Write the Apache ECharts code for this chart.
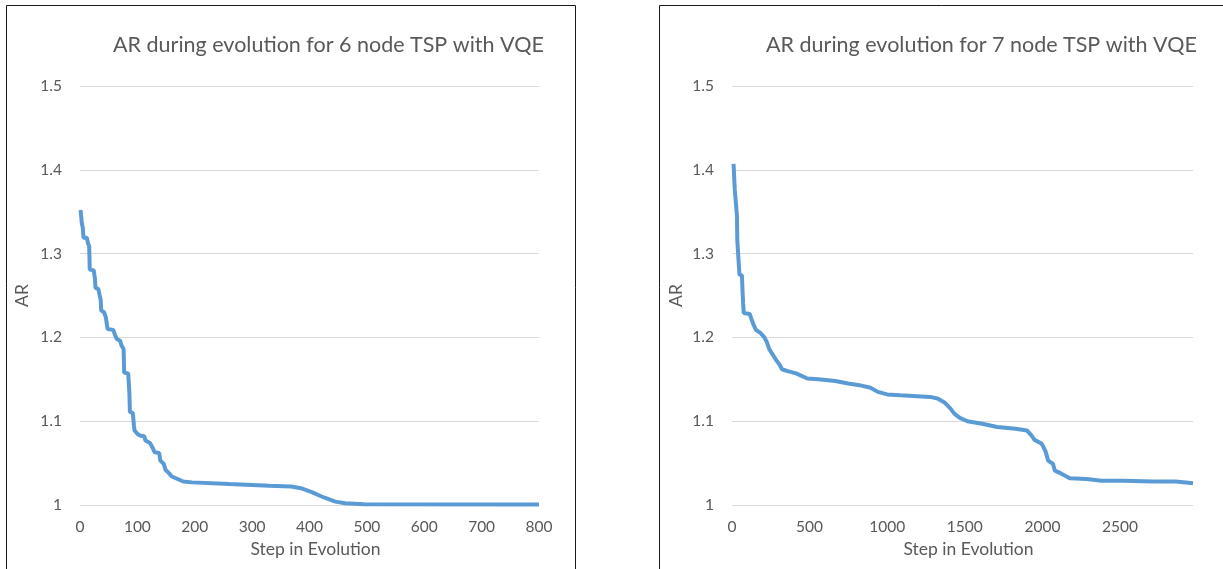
<!DOCTYPE html>
<html>
<head>
<meta charset="utf-8">
<script src="https://cdn.jsdelivr.net/npm/echarts@6/dist/echarts.min.js"></script>
<style>
  html, body { margin: 0; padding: 0; background: #fff; }
  #chart { width: 1223px; height: 569px; }
</style>
</head>
<body>
<div id="chart"></div>
<script>
// 6 node TSP (left panel)
const steps6 = [1, 2, 3, 5, 6, 12, 14, 16, 17, 24, 26, 27, 32, 34, 36, 37, 42, 45, 47, 48, 58, 61, 64, 70, 72, 76, 77, 84, 86, 87, 92, 94, 95, 100, 104, 112, 114, 122, 126, 130, 138, 140, 146, 149, 155, 160, 170, 180, 195, 260, 330, 368, 385, 405, 425, 445, 462, 495, 800];
const ar6 = [1.352, 1.345, 1.337, 1.330, 1.319, 1.319, 1.312, 1.309, 1.281, 1.280, 1.270, 1.259, 1.258, 1.251, 1.245, 1.232, 1.230, 1.224, 1.222, 1.210, 1.209, 1.203, 1.198, 1.196, 1.191, 1.186, 1.158, 1.157, 1.135, 1.111, 1.110, 1.095, 1.089, 1.085, 1.083, 1.082, 1.077, 1.074, 1.069, 1.063, 1.062, 1.053, 1.049, 1.042, 1.038, 1.034, 1.031, 1.028, 1.027, 1.025, 1.023, 1.022, 1.020, 1.015, 1.009, 1.004, 1.002, 1.001, 1.0005];

// 7 node TSP (right panel)
const steps7 = [10, 17, 18, 29, 32, 34, 46, 48, 64, 68, 72, 76, 114, 125, 137, 154, 185, 209, 225, 240, 264, 288, 305, 322, 353, 413, 485, 557, 665, 749, 821, 892, 940, 1000, 1084, 1276, 1324, 1372, 1408, 1432, 1468, 1516, 1612, 1708, 1828, 1900, 1929, 1948, 1996, 2020, 2037, 2068, 2080, 2116, 2176, 2284, 2380, 2524, 2716, 2860, 2970];
const ar7 = [1.407, 1.406, 1.376, 1.374, 1.345, 1.316, 1.315, 1.275, 1.274, 1.255, 1.240, 1.229, 1.228, 1.222, 1.216, 1.209, 1.205, 1.200, 1.194, 1.186, 1.179, 1.172, 1.168, 1.162, 1.160, 1.157, 1.151, 1.150, 1.148, 1.145, 1.143, 1.140, 1.135, 1.132, 1.131, 1.129, 1.127, 1.122, 1.115, 1.109, 1.104, 1.100, 1.097, 1.093, 1.091, 1.089, 1.083, 1.078, 1.073, 1.064, 1.053, 1.049, 1.041, 1.038, 1.032, 1.031, 1.029, 1.029, 1.028, 1.028, 1.026];

const titles = ['AR during evolution for 6 node TSP with VQE', 'AR during evolution for 7 node TSP with VQE'];
const xAxisName = 'Step in Evolution';
const yAxisName = 'AR';

const textColor = '#595959';
const font = 'Lato, "Open Sans", sans-serif';

function pairs(xs, ys) {
    return xs.map((x, i) => [x, ys[i]]);
}

function xAxisFor(gridIndex, max, interval) {
    return {
        type: 'value',
        gridIndex: gridIndex,
        min: 0,
        max: max,
        interval: interval,
        name: xAxisName,
        nameLocation: 'middle',
        nameGap: 33,
        nameTextStyle: { color: textColor, fontSize: 17.5, fontFamily: font, padding: [0, 0, 0, 12] },
        axisLine: { show: false },
        axisTick: { show: false },
        splitLine: { show: false },
        axisLabel: {
            color: textColor, fontSize: 15.5, fontFamily: font, margin: 14,
            showMaxLabel: max % interval === 0,
            formatter: v => String(v)
        }
    };
}

function yAxisFor(gridIndex, nameGap) {
    return {
        type: 'value',
        gridIndex: gridIndex,
        min: 1,
        max: 1.5,
        interval: 0.1,
        name: yAxisName,
        nameLocation: 'middle',
        nameGap: nameGap,
        nameTextStyle: { color: textColor, fontSize: 17.5, fontFamily: font },
        axisLine: { show: false },
        axisTick: { show: false },
        splitLine: { lineStyle: { color: '#d9d9d9', width: 1 } },
        axisLabel: { color: textColor, fontSize: 15.5, fontFamily: font, margin: 18 }
    };
}

function lineSeries(index, data) {
    return {
        type: 'line',
        xAxisIndex: index,
        yAxisIndex: index,
        data: data,
        showSymbol: false,
        symbol: 'none',
        lineStyle: { color: '#5b9bd5', width: 4 },
        animation: false
    };
}

const chart = echarts.init(document.getElementById('chart'));

chart.setOption({
    backgroundColor: '#fff',
    animation: false,
    title: [
        { text: titles[0], left: 108, top: 29, textStyle: { color: textColor, fontSize: 21.5, fontWeight: 'normal', fontFamily: font } },
        { text: titles[1], left: 761, top: 29, textStyle: { color: textColor, fontSize: 21.5, fontWeight: 'normal', fontFamily: font } }
    ],
    graphic: [
        { type: 'rect', shape: { x: 6.5, y: 5.5, width: 569, height: 620 }, style: { fill: 'none', stroke: '#1a1a1a', lineWidth: 1 } },
        { type: 'rect', shape: { x: 659.5, y: 5.5, width: 600, height: 620 }, style: { fill: 'none', stroke: '#1a1a1a', lineWidth: 1 } }
    ],
    grid: [
        { left: 80, top: 86, width: 459, height: 419 },
        { left: 732, top: 86, width: 461, height: 419 }
    ],
    xAxis: [xAxisFor(0, 800, 100), xAxisFor(1, 2970, 500)],
    yAxis: [yAxisFor(0, 49), yAxisFor(1, 47)],
    series: [lineSeries(0, pairs(steps6, ar6)), lineSeries(1, pairs(steps7, ar7))]
});
</script>
</body>
</html>
